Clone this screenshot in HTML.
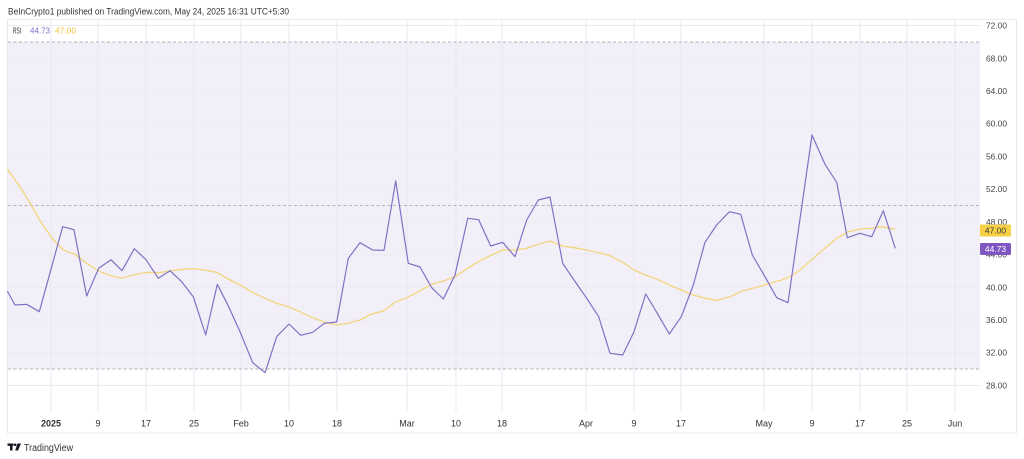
<!DOCTYPE html>
<html><head><meta charset="utf-8"><style>
html,body{margin:0;padding:0;background:#fff;}
svg{display:block;font-family:"Liberation Sans",Arial,sans-serif;}
</style></head><body>
<svg width="1024" height="459" viewBox="0 0 1024 459" xmlns="http://www.w3.org/2000/svg">
<rect x="0" y="0" width="1024" height="459" fill="#fff"/>
<text x="8" y="14.5" font-size="9.5" fill="#333" textLength="281" lengthAdjust="spacingAndGlyphs">BeInCrypto1 published on TradingView.com, May 24, 2025 16:31 UTC+5:30</text>
<rect x="7.5" y="19.5" width="1009" height="413.5" fill="#fff" stroke="#e8eaef" stroke-width="1"/>
<!-- band -->
<rect x="8" y="42" width="972" height="327" fill="#f2eff9"/>
<!-- horizontal grid -->
<g stroke="#e9ebf1" stroke-width="1" opacity="0.9">
<line x1="8" x2="980" y1="25.5" y2="25.5"/>
<line x1="8" x2="980" y1="58.3" y2="58.3"/>
<line x1="8" x2="980" y1="91" y2="91"/>
<line x1="8" x2="980" y1="123.7" y2="123.7"/>
<line x1="8" x2="980" y1="156.4" y2="156.4"/>
<line x1="8" x2="980" y1="189.1" y2="189.1"/>
<line x1="8" x2="980" y1="221.9" y2="221.9"/>
<line x1="8" x2="980" y1="254.6" y2="254.6"/>
<line x1="8" x2="980" y1="287.3" y2="287.3"/>
<line x1="8" x2="980" y1="320" y2="320"/>
<line x1="8" x2="980" y1="352.7" y2="352.7"/>
<line x1="8" x2="980" y1="385.5" y2="385.5"/>
</g>
<!-- vertical grid -->
<g stroke="#e6e8ef" stroke-width="1">
<line x1="51" x2="51" y1="20" y2="412"/>
<line x1="98" x2="98" y1="20" y2="412"/>
<line x1="146" x2="146" y1="20" y2="412"/>
<line x1="194" x2="194" y1="20" y2="412"/>
<line x1="241" x2="241" y1="20" y2="412"/>
<line x1="289" x2="289" y1="20" y2="412"/>
<line x1="337" x2="337" y1="20" y2="412"/>
<line x1="407" x2="407" y1="20" y2="412"/>
<line x1="456" x2="456" y1="20" y2="412"/>
<line x1="502" x2="502" y1="20" y2="412"/>
<line x1="586" x2="586" y1="20" y2="412"/>
<line x1="634" x2="634" y1="20" y2="412"/>
<line x1="681" x2="681" y1="20" y2="412"/>
<line x1="764" x2="764" y1="20" y2="412"/>
<line x1="812" x2="812" y1="20" y2="412"/>
<line x1="860" x2="860" y1="20" y2="412"/>
<line x1="907" x2="907" y1="20" y2="412"/>
<line x1="955" x2="955" y1="20" y2="412"/>
</g>
<!-- dashed levels -->
<g stroke="#b3b3bb" stroke-width="1" stroke-dasharray="3 2.5">
<line x1="8" x2="980" y1="42" y2="42"/>
<line x1="8" x2="980" y1="205.5" y2="205.5"/>
<line x1="8" x2="980" y1="369" y2="369"/>
</g>
<!-- signal line -->
<polyline fill="none" stroke="#f4d57c" stroke-width="1.3" stroke-linejoin="round" points="7.3,169.3 20,186.7 30,203 41.7,223.3 53.3,240 63.3,250 75,254.3 86.7,263.3 100,271.7 111.7,276 121.7,278.3 133.3,275 146.7,272.3 158.3,272.7 170,271 181.7,269.3 193.3,268.7 205,270 216.7,272.3 230,280 240,285 253.3,292.7 265,298.3 276.7,303.3 288.3,306.7 300,311.7 311.7,317.3 323.3,321.7 336.7,325 348.3,323.3 360,320 371.7,314 383.3,311 395,302.3 406.7,297.7 418.3,291.7 431.7,284.3 443.3,281 455,276.7 466.7,269 478.3,261.7 490.5,255.5 502.7,250 515,250 526.7,248.3 538.3,244.3 550,241 562.7,246 574.3,247.7 586.7,250 598.7,252.7 610,255.7 622.7,262.3 634,270 645.7,275 657.3,279.3 669.3,285 681.3,290 693.3,295 705,298.3 716.7,300.3 730,296.7 743.3,290.7 756.7,287.3 770,283.3 781.7,280 791.7,275.7 800,270 813.3,258.3 825,248.3 836.7,238.3 848.3,231.7 860,229 871.7,228.3 881.7,226.7 890,228.3 895.3,229.3"/>
<!-- RSI line -->
<polyline fill="none" stroke="#7f72c4" stroke-width="1.2" stroke-linejoin="round" points="7.3,291 15,305 26.7,304.3 39.3,311.7 62.7,226.7 74,229.7 86.7,296 98.7,268.3 111,259.7 122,270.7 134.3,248.7 146,259.7 158.3,278.3 170,270.7 181.7,281.7 193.3,296.7 205.7,335 217.3,284.3 228.7,306.7 240,331.7 252.7,362.7 265,372.7 276.7,336.7 289,324 300.7,335.3 312.7,332.3 324.3,323.3 336.7,322 348.3,258.3 360,242.7 372.7,250 384,250.3 395.7,181 408.3,263.3 420,267 431.7,287.7 443.3,299 455,275 467.7,218.3 478.7,219.7 490.7,246 502.7,242.3 515,256.7 526.7,220 538.3,200 550,197 562.7,263.3 574.7,281 586.7,298.3 598.7,316.7 610,353.3 622.7,355 634,331.7 645.7,294 657.3,313.3 669.3,334 681.3,316.7 693.3,285 705,242.3 717,224.5 729.5,211.7 740.7,214.3 752.3,255 765,276.7 776.7,297.7 788,302.7 812,135 825,164.3 836.7,182.3 847.3,237.7 860,233.3 871.7,236.7 883.3,210.7 895.3,248.3"/>
<!-- legend -->
<text x="12.7" y="33.5" font-size="8.5" fill="#333" textLength="8.5" lengthAdjust="spacingAndGlyphs">RSI</text>
<text x="30" y="33.5" font-size="8.5" fill="#7e6fc4" textLength="20" lengthAdjust="spacingAndGlyphs">44.73</text>
<text x="55" y="33.5" font-size="8.5" fill="#f0c43c" textLength="21" lengthAdjust="spacingAndGlyphs">47.00</text>
<!-- price axis labels -->
<g font-size="8.5" fill="#444">
<text x="986" y="28.5" textLength="21" lengthAdjust="spacingAndGlyphs">72.00</text>
<text x="986" y="61.3" textLength="21" lengthAdjust="spacingAndGlyphs">68.00</text>
<text x="986" y="94" textLength="21" lengthAdjust="spacingAndGlyphs">64.00</text>
<text x="986" y="126.7" textLength="21" lengthAdjust="spacingAndGlyphs">60.00</text>
<text x="986" y="159.4" textLength="21" lengthAdjust="spacingAndGlyphs">56.00</text>
<text x="986" y="192.1" textLength="21" lengthAdjust="spacingAndGlyphs">52.00</text>
<text x="986" y="224.9" textLength="21" lengthAdjust="spacingAndGlyphs">48.00</text>
<text x="986" y="257.6" textLength="21" lengthAdjust="spacingAndGlyphs">44.00</text>
<text x="986" y="290.3" textLength="21" lengthAdjust="spacingAndGlyphs">40.00</text>
<text x="986" y="323" textLength="21" lengthAdjust="spacingAndGlyphs">36.00</text>
<text x="986" y="355.7" textLength="21" lengthAdjust="spacingAndGlyphs">32.00</text>
<text x="986" y="388.5" textLength="21" lengthAdjust="spacingAndGlyphs">28.00</text>
</g>
<!-- tags -->
<rect x="980" y="224.5" width="31" height="12" rx="1.5" fill="#f7d046"/>
<text x="995.5" y="233.5" font-size="8.5" fill="#3a3a3a" text-anchor="middle">47.00</text>
<rect x="980" y="243" width="31" height="12" rx="1.5" fill="#7e57c2"/>
<text x="995.5" y="252" font-size="8.5" fill="#fff" text-anchor="middle">44.73</text>
<!-- time axis labels -->
<g font-size="9" fill="#333" text-anchor="middle">
<text x="51" y="426.5" font-weight="bold">2025</text>
<text x="98" y="426.5">9</text>
<text x="146" y="426.5">17</text>
<text x="194" y="426.5">25</text>
<text x="241" y="426.5">Feb</text>
<text x="289" y="426.5">10</text>
<text x="337" y="426.5">18</text>
<text x="407" y="426.5">Mar</text>
<text x="456" y="426.5">10</text>
<text x="502" y="426.5">18</text>
<text x="586" y="426.5">Apr</text>
<text x="634" y="426.5">9</text>
<text x="681" y="426.5">17</text>
<text x="764" y="426.5">May</text>
<text x="812" y="426.5">9</text>
<text x="860" y="426.5">17</text>
<text x="907" y="426.5">25</text>
<text x="955" y="426.5">Jun</text>
</g>
<!-- TradingView logo -->
<g fill="#131722">
<rect x="7.5" y="443.5" width="6" height="2.3"/>
<rect x="10" y="443.5" width="2.5" height="7"/>
<circle cx="15.2" cy="444.8" r="1.3"/>
<polygon points="17.5,443.5 21,443.5 18,450.5 15.2,450.5"/>
</g>
<text x="24" y="451" font-size="10" fill="#333" textLength="49" lengthAdjust="spacingAndGlyphs">TradingView</text>
</svg>
</body></html>
